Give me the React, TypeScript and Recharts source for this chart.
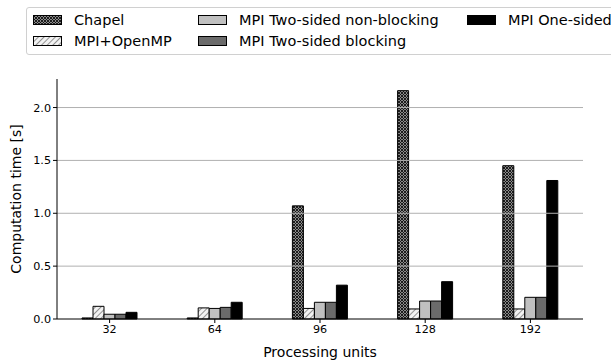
import { Bar, BarChart, Legend, ReferenceLine, XAxis, YAxis } from "recharts";

const units = ["32", "64", "96", "128", "192"];
const chapel = [0.01, 0.01, 1.07, 2.16, 1.45];
const mpiOpenmp = [0.12, 0.105, 0.1, 0.095, 0.095];
const twoSidedNonBlocking = [0.045, 0.1, 0.158, 0.17, 0.205];
const twoSidedBlocking = [0.045, 0.11, 0.158, 0.17, 0.205];
const oneSided = [0.063, 0.158, 0.32, 0.353, 1.31];
const yTicks = [0, 0.5, 1.0, 1.5, 2.0];

const FONT = "'DejaVu Sans', sans-serif";

const series = [
    { key: "chapel", name: "Chapel", fill: "url(#hatchChapel)" },
    { key: "openmp", name: "MPI+OpenMP", fill: "url(#hatchOpenmp)" },
    { key: "nonblocking", name: "MPI Two-sided non-blocking", fill: "#c0c0c0" },
    { key: "blocking", name: "MPI Two-sided blocking", fill: "#6b6b6b" },
    { key: "onesided", name: "MPI One-sided", fill: "#000000" },
];

const data = units.map((unit, i) => ({
    unit,
    chapel: chapel[i],
    openmp: mpiOpenmp[i],
    nonblocking: twoSidedNonBlocking[i],
    blocking: twoSidedBlocking[i],
    onesided: oneSided[i],
}));

function Patterns() {
    return (
        <defs>
            <pattern id="hatchChapel" width="3" height="3" patternUnits="userSpaceOnUse">
                <rect width="3" height="3" fill="#8a8a8a" />
                <path d="M0,0 L3,3 M3,0 L0,3" stroke="#111" strokeWidth="0.9" />
            </pattern>
            <pattern
                id="hatchOpenmp"
                width="4"
                height="4"
                patternUnits="userSpaceOnUse"
                patternTransform="rotate(45)"
            >
                <rect width="4" height="4" fill="#f2f2f2" />
                <line x1="0" y1="0" x2="0" y2="4" stroke="#7a7a7a" strokeWidth="1.6" />
            </pattern>
        </defs>
    );
}

// legend slots inside the box: [swatch left, row]
const legendSlots: [number, number][] = [
    [6, 0],
    [6, 1],
    [171, 0],
    [171, 1],
    [440, 0],
];

function LegendBox() {
    return (
        <div
            style={{
                position: "absolute",
                left: 26,
                top: 7,
                width: 610,
                height: 46,
                border: "1px solid #d0d0d0",
                borderRadius: 3,
                background: "#fff",
                fontFamily: FONT,
                fontSize: 14.5,
                color: "#000",
            }}
        >
            {series.map((s, i) => (
                <div
                    key={s.key}
                    style={{
                        position: "absolute",
                        left: legendSlots[i][0],
                        top: 2 + legendSlots[i][1] * 21,
                        height: 20,
                        display: "flex",
                        alignItems: "center",
                        whiteSpace: "nowrap",
                    }}
                >
                    <svg width={29} height={10} style={{ marginRight: 12 }}>
                        <rect x={0.5} y={0.5} width={28} height={9} fill={s.fill} stroke="#000" />
                    </svg>
                    <span>{s.name}</span>
                </div>
            ))}
        </div>
    );
}

export default function App() {
    return (
        <div style={{ position: "absolute", left: 0, top: 0, width: 611, height: 363, background: "#fff" }}>
            <BarChart
                width={611}
                height={363}
                data={data}
                margin={{ top: 79, right: 28, left: 0, bottom: 2 }}
                barGap={0}
                barSize={11}
                style={{ fontFamily: FONT }}
            >
                <Patterns />
                <XAxis
                    dataKey="unit"
                    height={42}
                    tickSize={4}
                    tick={{ fill: "#000", fontSize: 11.2 }}
                    stroke="#000"
                    label={{ value: "Processing units", position: "insideBottom", offset: 4, fill: "#000", fontSize: 14 }}
                />
                <XAxis xAxisId="top" orientation="top" dataKey="unit" height={0} tick={false} tickLine={false} stroke="#000" />
                <YAxis
                    width={57}
                    domain={[0, 2.27]}
                    ticks={yTicks}
                    tickFormatter={(v: number) => v.toFixed(1)}
                    tickSize={4}
                    tick={{ fill: "#000", fontSize: 11.2 }}
                    stroke="#000"
                    label={{
                        value: "Computation time [s]",
                        angle: -90,
                        position: "insideLeft",
                        offset: 16,
                        fill: "#000",
                        fontSize: 14,
                        style: { textAnchor: "middle" },
                    }}
                />
                <YAxis yAxisId="right" orientation="right" width={0} domain={[0, 2.27]} tick={false} tickLine={false} stroke="#000" />
                {series.map((s) => (
                    <Bar
                        key={s.key}
                        dataKey={s.key}
                        name={s.name}
                        fill={s.fill}
                        stroke="#000"
                        strokeWidth={1}
                        isAnimationActive={false}
                    />
                ))}
                {yTicks.slice(1).map((t) => (
                    <ReferenceLine key={t} y={t} stroke="#b0b0b0" strokeWidth={1} />
                ))}
                <Legend content={() => null} />
            </BarChart>
            <LegendBox />
        </div>
    );
}
